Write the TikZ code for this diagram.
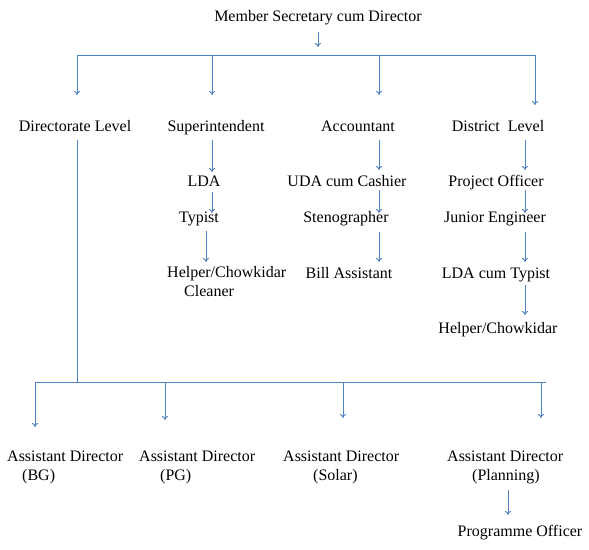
\documentclass[tikz,border=0pt]{standalone}
\usepackage{fontspec}
\setmainfont{Liberation Serif}
\usetikzlibrary{arrows.meta}
\definecolor{lineblue}{RGB}{79,129,189}
\begin{document}
\begin{tikzpicture}[x=1pt,y=-1pt,
  lbl/.style={inner sep=0pt, anchor=base, font=\fontsize{16}{19}\selectfont},
  mlbl/.style={inner sep=0pt, anchor=north west, align=left, font=\fontsize{16}{19}\selectfont},
  conn/.style={draw=lineblue, line width=0.9pt, -{To[length=4pt,width=6pt]}},
  bus/.style={draw=lineblue, line width=0.9pt}]
\useasboundingbox[fill=white] (0,0) rectangle (589,549);
% nodes
\node[lbl] (title) at (318,21) {Member Secretary cum Director};
\node[lbl] (dir) at (75,131) {Directorate Level};
\node[lbl] (sup) at (216,131) {Superintendent};
\node[lbl] (acc) at (358,131) {Accountant};
\node[lbl] (dist) at (498,131) {District\ \ Level};
\node[lbl] (lda) at (204,186) {LDA};
\node[lbl] (typ) at (199,222) {Typist};
\node[mlbl] (hc1) at (167,266) {Helper/Chowkidar\\\hspace*{17pt}Cleaner};
\node[lbl] (uda) at (347,186) {UDA cum Cashier};
\node[lbl] (steno) at (346,222) {Stenographer};
\node[lbl] (bill) at (349,278) {Bill Assistant};
\node[lbl] (po) at (496,186) {Project Officer};
\node[lbl] (je) at (495,222) {Junior Engineer};
\node[lbl] (ldat) at (496,278) {LDA cum Typist};
\node[lbl] (hc2) at (498,333) {Helper/Chowkidar};
\node[mlbl] (ad1) at (7,451) {Assistant Director\\\hspace*{15pt}(BG)};
\node[mlbl] (ad2) at (139,451) {Assistant Director\\\hspace*{21pt}(PG)};
\node[mlbl] (ad3) at (283,451) {Assistant Director\\\hspace*{30pt}(Solar)};
\node[mlbl] (ad4) at (447,451) {Assistant Director\\\hspace*{25pt}(Planning)};
\node[lbl] (prog) at (520,536) {Programme Officer};
% top bus
\coordinate (b1) at (77,55);
\coordinate (b2) at (212,55);
\coordinate (b3) at (379,55);
\coordinate (b4) at (535,55);
\draw[conn] ([shift={(0,11)}]title.base) -- ([shift={(0,26)}]title.base);
\draw[bus] (b1) -- (b4);
\draw[conn] (b1) -- ([shift={(2,-36)}]dir.base);
\draw[conn] (b2) -- ([shift={(-4,-36)}]sup.base);
\draw[conn] (b3) -- ([shift={(21,-36)}]acc.base);
\draw[conn] (b4) -- ([shift={(37,-26)}]dist.base);
% superintendent branch
\draw[conn] ([shift={(-4,9)}]sup.base) -- ([shift={(8,-14)}]lda.base);
\draw[conn] ([shift={(8,6)}]lda.base) -- ([shift={(13,-9)}]typ.base);
\draw[conn] ([shift={(7,9)}]typ.base) -- ([shift={(39,-4)}]hc1.north west);
% accountant branch
\draw[conn] ([shift={(21,9)}]acc.base) -- ([shift={(32,-16)}]uda.base);
\draw[conn] ([shift={(32,4)}]uda.base) -- ([shift={(33,-9)}]steno.base);
\draw[conn] ([shift={(33,10)}]steno.base) -- ([shift={(30,-16)}]bill.base);
% district branch
\draw[conn] ([shift={(27,9)}]dist.base) -- ([shift={(29,-16)}]po.base);
\draw[conn] ([shift={(29,4)}]po.base) -- ([shift={(30,-9)}]je.base);
\draw[conn] ([shift={(30,10)}]je.base) -- ([shift={(29,-16)}]ldat.base);
\draw[conn] ([shift={(29,7)}]ldat.base) -- ([shift={(27,-18)}]hc2.base);
% bottom bus
\coordinate (d0) at (77,382);
\coordinate (c1) at (35,382);
\coordinate (c2) at (165,382);
\coordinate (c3) at (343,382);
\coordinate (c4) at (541,382);
\coordinate (cend) at (546,382);
\draw[bus] ([shift={(2,9)}]dir.base) -- (d0);
\draw[bus] (c1) -- (cend);
\draw[conn] (c1) -- ([shift={(28,-24)}]ad1.north west);
\draw[conn] (c2) -- ([shift={(26,-31)}]ad2.north west);
\draw[conn] (c3) -- ([shift={(60,-33)}]ad3.north west);
\draw[conn] (c4) -- ([shift={(94,-33)}]ad4.north west);
\draw[conn] ([shift={(61,39)}]ad4.north west) -- ([shift={(-12,-21)}]prog.base);
\end{tikzpicture}
\end{document}
